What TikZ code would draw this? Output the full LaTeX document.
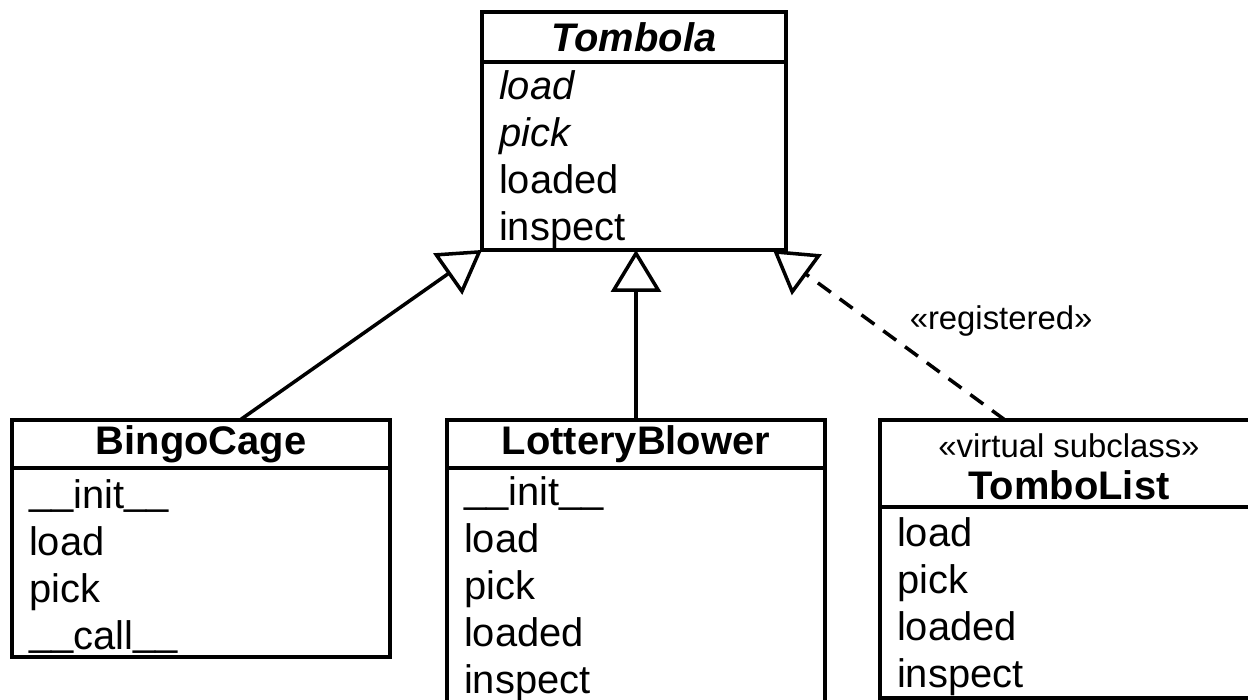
\documentclass[tikz,border=0pt]{standalone}
\usepackage{fontspec}
\setmainfont{Liberation Sans}
\usetikzlibrary{arrows.meta,positioning}
\newcommand\stereofont{\fontsize{18.7}{22}\selectfont\mdseries}
\newcommand\dunder{\raisebox{2pt}{\_\_}}

\begin{document}
\begin{tikzpicture}[x=0.02cm,y=-0.02cm,
    classhead/.style={draw, line width=2pt, outer sep=0pt, inner sep=0pt,
        minimum width=7.56cm, minimum height=0.96cm,
        font=\fontsize{22.7}{25}\selectfont\bfseries, align=center},
    classbody/.style={draw, line width=2pt, outer sep=0pt, inner xsep=0.34cm, inner ysep=0pt,
        text width=6.88cm, font=\fontsize{22.7}{26.7}\selectfont, align=left,
        execute at begin node=\rule{0pt}{21pt}},
    stereo/.style={font=\stereofont},
    inherit/.style={line width=2pt, line join=miter,
        -{Triangle[open, length=0.84cm, width=1cm]}},
    ]
\useasboundingbox (0,0) rectangle (1248,700);

% abstract base class
\node[classhead, minimum width=6.08cm, minimum height=1cm] (tombola) at (634,37) {\itshape Tombola};
\node[classbody, text width=5.4cm, minimum height=3.76cm, below=0pt of tombola] (tombolabody)
    {{\itshape load}\\ {\itshape pick}\\ loaded\\ inspect};

% concrete subclasses
\node[classhead] (bingo) at (201,444) {BingoCage};
\node[classbody, minimum height=3.78cm, below=0pt of bingo] (bingobody)
    {\dunder init\dunder\\ load\\ pick\\ \dunder call\dunder};

\node[classhead] (lottery) at (636,444) {LotteryBlower};
\node[classbody, minimum height=4.7cm, below=0pt of lottery] (lotterybody)
    {\dunder init\dunder\\ load\\ pick\\ loaded\\ inspect};

% virtual subclass
\node[classhead, minimum height=1.74cm] (tombolist) at (1069,463.5)
    {\rule{0pt}{17pt}{\stereofont «virtual subclass»}\\[-1pt] TomboList};
\node[classbody, minimum height=3.82cm, below=0pt of tombolist] (tombolistbody)
    {load\\ pick\\ loaded\\ inspect};

\draw[inherit] ([xshift=0.78cm]bingo.north) -- (tombolabody.south west);
\draw[inherit] (lottery.north) -- (lottery.north |- tombolabody.south);
\draw[inherit, dash pattern=on 0.32cm off 0.22cm] ([xshift=-1.28cm]tombolist.north)
    -- node[pos=0.5, anchor=west, inner sep=0pt, xshift=0.38cm, yshift=0.28cm, stereo] {«registered»}
    ([xshift=-0.26cm]tombolabody.south east);
\end{tikzpicture}
\end{document}
